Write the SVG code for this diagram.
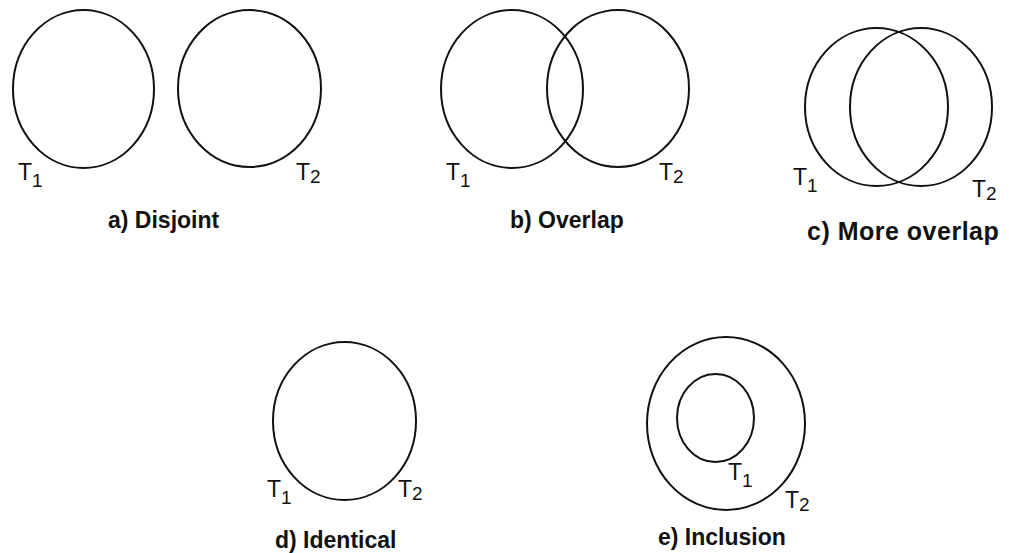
<svg xmlns="http://www.w3.org/2000/svg" width="1009" height="553" viewBox="0 0 1009 553">
<style>
.c{fill:none;stroke:#111;stroke-width:2}
.t{font-family:"Liberation Sans",Arial,sans-serif;font-size:23px;fill:#111}
.s{font-size:19px}
.cap{font-family:"Liberation Sans",Arial,sans-serif;font-size:23px;font-weight:bold;fill:#111}
</style>
<rect width="1009" height="553" fill="#fff"/>
<g id="a">
<ellipse class="c" cx="83.5" cy="89" rx="70.5" ry="79"/>
<ellipse class="c" cx="249.5" cy="88.5" rx="71.5" ry="78.5"/>
<text class="t" x="18" y="180">T<tspan class="s" dy="7">1</tspan></text>
<text class="t" x="296" y="180">T<tspan class="s" dy="3">2</tspan></text>
<text class="cap" x="108" y="228">a) Disjoint</text>
</g>
<g id="b">
<ellipse class="c" cx="512" cy="89" rx="71" ry="79"/>
<ellipse class="c" cx="618" cy="88.5" rx="71" ry="78.5"/>
<text class="t" x="446" y="180">T<tspan class="s" dy="7">1</tspan></text>
<text class="t" x="659" y="180">T<tspan class="s" dy="3">2</tspan></text>
<text class="cap" x="510" y="228">b) Overlap</text>
</g>
<g id="c">
<ellipse class="c" cx="876.5" cy="107" rx="71.5" ry="79"/>
<ellipse class="c" cx="921" cy="107" rx="71" ry="79"/>
<text class="t" x="793" y="185">T<tspan class="s" dy="7">1</tspan></text>
<text class="t" x="972" y="197">T<tspan class="s" dy="3">2</tspan></text>
<text class="cap" x="807" y="240" style="font-size:25px;letter-spacing:0.5px">c) More overlap</text>
</g>
<g id="d">
<ellipse class="c" cx="344.5" cy="421" rx="71.5" ry="79"/>
<text class="t" x="267" y="497">T<tspan class="s" dy="7">1</tspan></text>
<text class="t" x="398" y="497">T<tspan class="s" dy="3">2</tspan></text>
<text class="cap" x="275" y="548">d) Identical</text>
</g>
<g id="e">
<ellipse class="c" cx="726" cy="423.5" rx="79" ry="86.5"/>
<ellipse class="c" cx="715.5" cy="418" rx="38.5" ry="44"/>
<text class="t" x="728" y="480">T<tspan class="s" dy="7">1</tspan></text>
<text class="t" x="785" y="508">T<tspan class="s" dy="3">2</tspan></text>
<text class="cap" x="658" y="545">e) Inclusion</text>
</g>
<g id="connectors"/>
</svg>
